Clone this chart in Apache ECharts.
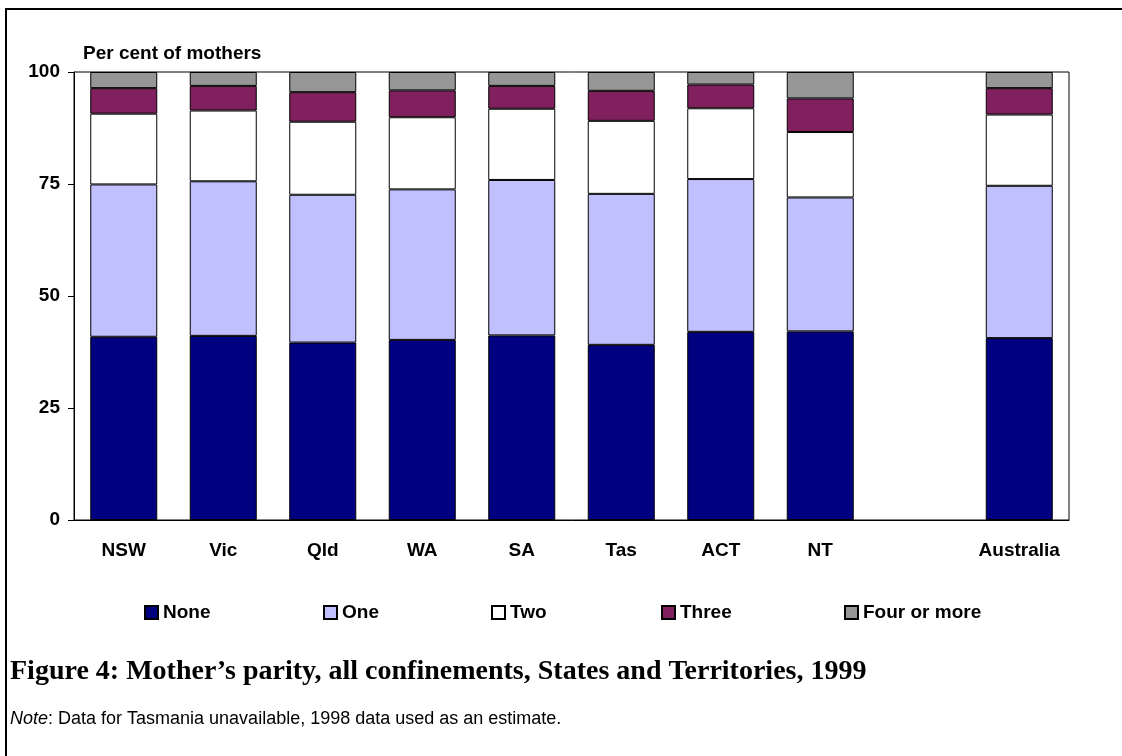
<!DOCTYPE html>
<html>
<head>
<meta charset="utf-8">
<script src="https://cdn.jsdelivr.net/npm/echarts@6/dist/echarts.min.js"></script>
<style>
html,body{margin:0;padding:0;background:#fff;}
#chart{width:1122px;height:756px;}
</style>
</head>
<body>
<div id="chart"></div>
<script>
const categories = ['NSW', 'Vic', 'Qld', 'WA', 'SA', 'Tas', 'ACT', 'NT', '', 'Australia'];
const seriesNames = ['None', 'One', 'Two', 'Three', 'Four or more'];
const noneVals = [40.9, 41.1, 39.6, 40.2, 41.2, 39.1, 42.0, 42.1, null, 40.6];
const oneVals = [34.0, 34.5, 33.0, 33.6, 34.7, 33.7, 34.1, 29.9, null, 34.0];
const twoVals = [15.8, 15.8, 16.3, 16.1, 15.9, 16.3, 15.8, 14.6, null, 15.9];
const threeVals = [5.7, 5.5, 6.6, 6.0, 5.1, 6.7, 5.3, 7.5, null, 5.9];
const fourVals = [3.6, 3.1, 4.5, 4.1, 3.1, 4.2, 2.8, 5.9, null, 3.6];
const yTicks = [0, 25, 50, 75, 100];

const colors = ['#000080', '#C0C0FF', '#FFFFFF', '#80205E', '#969696'];
const allVals = [noneVals, oneVals, twoVals, threeVals, fourVals];
const sans = '"Liberation Sans", Arial, sans-serif';
const legendLefts = [144, 323, 491, 661, 844];

const chart = echarts.init(document.getElementById('chart'), null, {renderer: 'canvas'});
chart.setOption({
  animation: false,
  backgroundColor: '#fff',
  title: [{
    text: 'Figure 4: Mother’s parity, all confinements, States and Territories, 1999',
    left: 10, top: 658, padding: 0,
    textStyle: {fontFamily: '"Liberation Serif", "Times New Roman", serif', fontWeight: 'bold', fontSize: 28, color: '#000'}
  }, {
    text: '{i|Note}: Data for Tasmania unavailable, 1998 data used as an estimate.',
    left: 10, top: 710, padding: 0,
    textStyle: {fontFamily: sans, fontWeight: 'normal', fontSize: 18, color: '#000',
      rich: {i: {fontFamily: sans, fontStyle: 'italic', fontSize: 18, color: '#000'}}}
  }],
  graphic: [
    {type: 'line', shape: {x1: 5, y1: 9, x2: 1122, y2: 9}, style: {stroke: '#000', lineWidth: 2}},
    {type: 'line', shape: {x1: 6, y1: 8, x2: 6, y2: 756}, style: {stroke: '#000', lineWidth: 2}}
  ],
  legend: seriesNames.map((n, i) => ({
    data: [n], left: legendLefts[i], top: 603, padding: 0,
    icon: 'rect', itemWidth: 13, itemHeight: 13, itemGap: 0,
    textStyle: {fontFamily: sans, fontWeight: 'bold', fontSize: 19, color: '#000', padding: [0, 0, 0, 0]}
  })),
  grid: {left: 74, top: 72, right: 53, bottom: 236, show: true, borderColor: '#000', borderWidth: 1, backgroundColor: 'transparent'},
  xAxis: {
    type: 'category', data: categories,
    axisLine: {lineStyle: {color: '#000', width: 1}},
    axisTick: {show: false},
    axisLabel: {fontFamily: sans, fontWeight: 'bold', fontSize: 19, color: '#000', margin: 21, interval: 0}
  },
  yAxis: {
    type: 'value', min: 0, max: 100, interval: 25,
    name: 'Per cent of mothers', nameLocation: 'end', nameGap: 9,
    nameTextStyle: {fontFamily: sans, fontWeight: 'bold', fontSize: 19, color: '#000', align: 'left', padding: [0, 0, 0, 9]},
    axisLine: {show: true, lineStyle: {color: '#000', width: 1}},
    axisTick: {show: true, length: 6, lineStyle: {color: '#000'}},
    splitLine: {show: false},
    axisLabel: {fontFamily: sans, fontWeight: 'bold', fontSize: 19, color: '#000', margin: 14,
      formatter: v => yTicks.includes(v) ? String(v) : ''}
  },
  series: seriesNames.map((n, i) => ({
    name: n, type: 'bar', stack: 'total', barWidth: 67,
    data: allVals[i],
    itemStyle: {color: colors[i], borderColor: '#000', borderWidth: 1}
  }))
});
</script>
</body>
</html>
